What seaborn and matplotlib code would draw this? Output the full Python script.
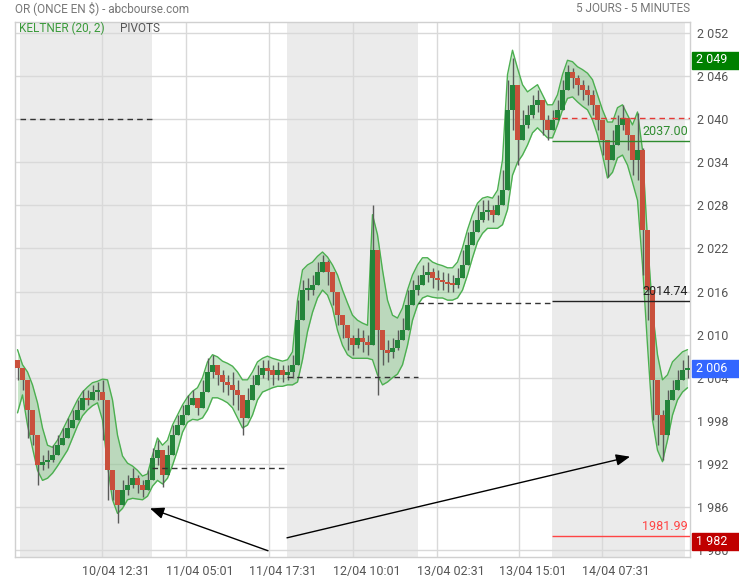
import numpy as np
import pandas as pd
import matplotlib
matplotlib.use("Agg")
import matplotlib.pyplot as plt
import seaborn as sns
from matplotlib import transforms
from matplotlib.patches import Rectangle

# ---------------- data ----------------
first_open = 2006.4
close = [2005.3, 2003.7, 1999.5, 1996.0, 1991.8, 1992.3, 1992.5, 1993.2, 1994.6, 1995.6,
         1997.0, 1998.1, 1999.5, 2001.2, 2000.9, 2002.0, 2002.0, 2000.9, 1991.1, 1988.4,
         1986.3, 1988.4, 1989.0, 1990.0, 1989.0, 1988.4, 1989.8, 1992.8, 1993.9, 1990.5,
         1993.2, 1996.0, 1997.4, 1998.8, 2000.2, 2001.2, 1999.8, 2002.0, 2004.8, 2005.8,
         2004.4, 2003.4, 2003.0, 2002.3, 2001.6, 1998.4, 2000.9, 2003.0, 2004.4, 2005.3,
         2005.1, 2004.4, 2005.1, 2004.4, 2004.8, 2005.8, 2012.0, 2016.2, 2016.2, 2016.9,
         2018.7, 2020.1, 2018.7, 2015.9, 2012.7, 2011.3, 2009.5, 2008.5, 2009.5, 2009.0,
         2008.5, 2021.8, 2010.6, 2007.8, 2007.6, 2008.1, 2009.2, 2010.6, 2014.1, 2016.2,
         2016.9, 2018.3, 2018.7, 2017.9, 2017.6, 2017.3, 2017.2, 2016.9, 2017.9, 2019.7,
         2022.5, 2024.3, 2026.0, 2027.1, 2027.4, 2026.7, 2028.0, 2030.1, 2041.3, 2044.8,
         2037.1, 2039.2, 2040.6, 2042.0, 2042.7, 2039.9, 2038.5, 2039.9, 2041.3, 2044.1,
         2046.6, 2045.7, 2044.8, 2044.1, 2043.4, 2042.0, 2039.9, 2037.1, 2034.3, 2036.4,
         2039.2, 2040.2, 2037.8, 2034.3, 2035.7, 2024.6, 2016.2, 2003.7, 1998.8, 1996.0,
         2000.9, 2002.3, 2003.7, 2005.1, 2005.3]
high = [2006.5, 2005.1, 2000.9, 1997.4, 1994.6, 1993.2, 1993.9, 1994.6, 1996.0, 1997.0,
        1998.4, 1999.5, 2000.9, 2002.3, 2002.3, 2003.0, 2003.4, 2003.7, 1996.7, 1990.5,
        1988.4, 1989.8, 1990.5, 1991.4, 1990.5, 1989.8, 1991.1, 1994.2, 1995.3, 1992.5,
        1994.6, 1997.4, 1998.8, 2000.2, 2001.6, 2002.3, 2001.2, 2003.7, 2006.7, 2007.2,
        2005.8, 2005.1, 2004.4, 2004.8, 2003.7, 2000.9, 2002.6, 2004.4, 2005.8, 2006.5,
        2006.5, 2005.8, 2006.2, 2005.8, 2005.8, 2007.2, 2014.8, 2017.6, 2017.9, 2018.3,
        2020.1, 2021.1, 2020.4, 2017.6, 2014.8, 2012.7, 2010.9, 2009.9, 2010.9, 2010.6,
        2009.9, 2028.0, 2021.8, 2009.2, 2009.2, 2009.5, 2010.6, 2012.3, 2016.2, 2017.6,
        2018.3, 2019.7, 2020.1, 2019.3, 2019.0, 2018.7, 2018.6, 2018.3, 2019.3, 2021.8,
        2024.3, 2026.0, 2028.0, 2028.7, 2028.7, 2028.0, 2029.4, 2032.9, 2045.5, 2048.5,
        2044.1, 2041.3, 2042.0, 2043.4, 2044.1, 2042.7, 2040.6, 2041.3, 2042.7, 2045.5,
        2047.5, 2047.1, 2046.2, 2045.5, 2044.8, 2044.1, 2042.0, 2039.9, 2037.1, 2038.5,
        2040.6, 2042.0, 2039.9, 2037.1, 2040.9, 2036.0, 2019.7, 2012.0, 2002.3, 1999.5,
        2002.3, 2003.7, 2005.1, 2006.5, 2007.2]
low = [2003.7, 2002.3, 1995.6, 1994.6, 1989.0, 1991.1, 1991.4, 1992.3, 1993.7, 1994.6,
       1996.0, 1997.0, 1998.4, 2000.2, 2000.2, 2000.9, 2000.9, 1995.3, 1987.0, 1987.0,
       1983.8, 1987.0, 1987.7, 1988.6, 1987.9, 1987.4, 1988.4, 1991.4, 1991.8, 1988.8,
       1991.4, 1994.6, 1996.4, 1997.8, 1998.8, 2000.2, 1998.8, 2000.6, 2003.4, 2004.0,
       2003.0, 2002.0, 2001.6, 2000.2, 1999.5, 1996.0, 1999.2, 2001.6, 2003.0, 2004.0,
       2003.7, 2003.0, 2003.7, 2003.4, 2003.7, 2004.0, 2006.5, 2014.1, 2014.8, 2015.5,
       2017.3, 2018.7, 2016.9, 2014.1, 2011.3, 2009.5, 2007.8, 2007.2, 2008.1, 2007.6,
       2007.2, 2008.5, 2001.6, 2005.8, 2006.2, 2006.7, 2007.8, 2009.2, 2012.0, 2014.8,
       2015.5, 2016.9, 2017.3, 2016.5, 2016.2, 2016.2, 2015.9, 2015.9, 2016.5, 2018.3,
       2020.7, 2022.9, 2024.6, 2025.7, 2026.0, 2025.7, 2026.7, 2028.7, 2030.1, 2038.5,
       2033.6, 2037.1, 2038.8, 2040.2, 2041.0, 2037.8, 2037.1, 2038.5, 2039.9, 2042.7,
       2045.2, 2044.3, 2043.4, 2042.7, 2042.0, 2040.6, 2038.5, 2035.0, 2031.9, 2034.3,
       2037.1, 2038.5, 2035.7, 2032.2, 2031.5, 2018.3, 2012.0, 1998.1, 1994.6, 1992.5,
       1998.1, 2000.9, 2002.3, 2003.7, 2004.0]
keltner_upper = [2007.9, 2005.8, 2004.8, 2003.0, 2000.5, 1997.0, 1994.6, 1994.3, 1995.3, 1996.7,
                 1998.1, 1999.5, 2000.9, 2002.0, 2002.7, 2003.3, 2003.5, 2003.8, 2003.7, 2000.9,
                 1996.0, 1993.1, 1992.1, 1991.7, 1991.1, 1990.3, 1990.6, 1993.2, 1995.6, 1994.6,
                 1995.3, 1997.4, 1998.8, 2000.2, 2001.3, 2002.1, 2002.6, 2004.0, 2006.2, 2007.2,
                 2006.9, 2006.3, 2006.0, 2005.6, 2004.8, 2003.7, 2003.7, 2004.8, 2006.2, 2006.7,
                 2007.0, 2006.7, 2006.5, 2006.3, 2006.5, 2007.6, 2014.8, 2019.0, 2019.7, 2020.1,
                 2020.9, 2021.5, 2020.8, 2019.7, 2018.3, 2016.2, 2014.4, 2012.7, 2012.0, 2011.6,
                 2011.3, 2026.7, 2023.9, 2019.0, 2014.8, 2012.7, 2012.3, 2013.7, 2016.2, 2018.3,
                 2019.7, 2020.7, 2020.7, 2020.1, 2019.8, 2019.6, 2019.3, 2019.3, 2020.1, 2022.1,
                 2024.6, 2026.7, 2028.3, 2029.0, 2029.2, 2029.0, 2030.1, 2034.3, 2046.2, 2049.6,
                 2047.1, 2044.8, 2043.8, 2044.3, 2044.8, 2043.4, 2042.0, 2042.0, 2043.4, 2046.2,
                 2048.2, 2048.0, 2047.3, 2046.9, 2046.4, 2045.5, 2043.4, 2041.3, 2039.6, 2039.6,
                 2041.6, 2042.0, 2040.6, 2039.2, 2041.0, 2035.7, 2023.2, 2013.4, 2007.2, 2003.7,
                 2004.4, 2006.2, 2006.9, 2007.6, 2007.9]
keltner_lower = [1999.1, 2001.6, 1997.4, 1994.2, 1991.1, 1989.7, 1990.0, 1990.7, 1991.7, 1992.8,
                 1993.9, 1995.6, 1997.3, 1998.7, 1999.5, 2000.1, 2000.5, 1998.1, 1991.8, 1987.0,
                 1985.1, 1985.8, 1987.0, 1987.2, 1987.1, 1987.0, 1987.5, 1988.9, 1989.7, 1989.2,
                 1990.0, 1991.8, 1993.9, 1996.4, 1997.8, 1998.2, 1998.1, 1998.4, 1999.5, 2001.2,
                 2001.2, 2000.9, 2000.5, 1999.8, 1998.4, 1997.0, 1997.4, 1998.8, 2000.9, 2002.0,
                 2002.3, 2002.6, 2002.8, 2002.8, 2003.0, 2003.0, 2003.4, 2006.5, 2010.4, 2013.1,
                 2015.1, 2016.2, 2015.5, 2013.7, 2010.6, 2008.5, 2007.2, 2006.7, 2006.7, 2006.7,
                 2006.7, 2006.5, 2004.4, 2003.0, 2003.4, 2004.0, 2004.5, 2005.8, 2008.5, 2012.0,
                 2014.1, 2015.1, 2015.4, 2015.2, 2015.1, 2015.1, 2014.8, 2014.8, 2015.1, 2016.2,
                 2018.3, 2020.7, 2022.9, 2024.1, 2024.8, 2024.8, 2024.8, 2025.3, 2027.4, 2032.2,
                 2034.0, 2035.0, 2036.4, 2038.1, 2038.8, 2038.1, 2037.4, 2037.4, 2039.2, 2041.3,
                 2042.9, 2043.1, 2042.4, 2041.8, 2041.3, 2039.9, 2037.8, 2035.0, 2031.8, 2032.6,
                 2034.6, 2035.0, 2033.6, 2031.2, 2028.7, 2019.7, 2008.5, 1998.1, 1993.9, 1992.3,
                 1995.3, 1998.8, 2000.9, 2002.0, 2002.6]

y_ticks = [1980, 1986, 1992, 1998, 2004, 2010, 2016, 2022, 2028, 2034, 2040, 2046, 2052]
x_grid = [16.9, 33.7, 50.3, 67.1, 83.9, 100.3, 116.9]
x_tick_pos = [19.7, 36.5, 53.1, 69.9, 86.7, 103.1, 119.7]
x_tick_labels = ["10/04 12:31", "11/04 05:01", "11/04 17:31", "12/04 10:01",
                 "13/04 02:31", "13/04 15:01", "14/04 07:31"]
day_bounds = [0.5, 26.9, 53.9, 80.1, 106.9, 134.5]
shaded_days = [(0.5, 26.9), (53.9, 80.1), (106.9, 133.5)]
prev_pivots = [2040.0, 1991.4, 2004.1, 2014.4]
last_pivots = [  # value, colour, style, label
    (2040.1, "#e53935", "--", None),
    (2037.00, "#2e8b2e", "-", "2037.00"),
    (2014.74, "#222222", "-", "2014.74"),
    (1981.99, "#ff4444", "-", "1981.99"),
]
price_boxes = [(2049, "#008000", "2 049"), (2006, "#3366ff", "2 006"), (1982, "#c00000", "1 982")]

# ---------------- figure ----------------
sns.set_theme(style="white")
plt.rcParams["font.family"] = ["Roboto", "DejaVu Sans"]

W, H = 739, 580
fig = plt.figure(figsize=(W / 100, H / 100), dpi=100)
ax = fig.add_axes([15 / W, (H - 557) / H, 675 / W, 535 / H])
ax.set_xlim(-0.5, 134.5)
ax.set_ylim(1979.03, 2053.53)

idx = np.arange(len(close))
opens = np.array([first_open] + close[:-1])
closes = np.array(close)
highs = np.maximum(np.array(high), np.maximum(opens, closes))
lows = np.minimum(np.array(low), np.minimum(opens, closes))

# background: shaded sessions and grid
for a, b in shaded_days:
    ax.axvspan(a, b, color="#ebebeb", lw=0, zorder=0)
for y in y_ticks:
    ax.axhline(y, color="#d9d9d9", lw=1, zorder=0.5)
for x in x_grid:
    ax.axvline(x, color="#d9d9d9", lw=1, zorder=0.5)

# Keltner channel
df = pd.DataFrame({"t": idx, "upper": keltner_upper, "lower": keltner_lower})
ax.fill_between(df["t"], df["lower"], df["upper"], color="#4caf50", alpha=0.3, lw=0, zorder=1)
sns.lineplot(data=df, x="t", y="upper", ax=ax, color="#4caf50", lw=1, zorder=2)
sns.lineplot(data=df, x="t", y="lower", ax=ax, color="#4caf50", lw=1, zorder=2)

# candlesticks
up = closes >= opens
ax.vlines(idx, lows, highs, color="#5a5a5a", lw=1.0, zorder=3)
body = closes - opens
body = np.where(np.abs(body) < 0.3, np.where(up, 0.3, -0.3), body)
ax.bar(idx, body, bottom=opens, width=0.85,
       color=np.where(up, "#23853a", "#c9503c"), lw=0, zorder=4)

# pivots of previous sessions (dashed)
for k, v in enumerate(prev_pivots):
    ax.hlines(v, day_bounds[k], day_bounds[k + 1], colors="#333333",
              linestyles=(0, (4, 3)), lw=1, zorder=5)
# pivots of the last session
for v, c, ls, lab in last_pivots:
    ax.hlines(v, day_bounds[4], day_bounds[5], colors=c,
              linestyles=(0, (4, 3)) if ls == "--" else "-", lw=1, zorder=5)
    if lab:
        ax.text(134.1, v + 0.35, lab, color=c, fontsize=9, ha="right", va="bottom", zorder=6)

# arrows
arrow = dict(arrowstyle="-|>,head_length=0.6,head_width=0.25", color="black",
             lw=1, mutation_scale=14, shrinkA=0, shrinkB=0)
ax.annotate("", xy=(26.5, 1985.8), xytext=(50.1, 1979.9), arrowprops=arrow, zorder=7)
ax.annotate("", xy=(122.5, 1993.0), xytext=(53.9, 1981.7), arrowprops=arrow, zorder=7)

# axes styling
ax.set_xlabel("")
ax.set_ylabel("")
ax.set_xticks(x_tick_pos)
ax.set_xticklabels(x_tick_labels)
ax.set_yticks(y_ticks)
ax.set_yticklabels([f"{v:,}".replace(",", " ") for v in y_ticks])
ax.yaxis.tick_right()
ax.tick_params(axis="both", length=0, labelsize=9, colors="#555555")
ax.tick_params(axis="x", pad=6)
ax.tick_params(axis="y", pad=5)
for s in ax.spines.values():
    s.set_color("#d0d0d0")
    s.set_linewidth(1)
ax.grid(False)

# price boxes on the right
blend = transforms.blended_transform_factory(fig.transFigure, ax.transData)
for v, c, lab in price_boxes:
    ax.add_patch(Rectangle((692 / W, v - 1.95), 47 / W, 2.37, transform=blend,
                           color=c, clip_on=False, zorder=20))
    ax.text(696 / W, v - 0.76, lab, transform=blend, color="white", fontsize=9,
            va="center", ha="left", clip_on=False, zorder=21)

# header and legend
fig.text(15 / W, 1 - 8 / H, "OR (ONCE EN \\$) - abcbourse.com", color="#777777",
         fontsize=8.5, va="center", ha="left")
fig.text(690 / W, 1 - 8 / H, "5 JOURS - 5 MINUTES", color="#777777",
         fontsize=8.5, va="center", ha="right")
fig.text(19 / W, 1 - 28 / H, "KELTNER (20, 2)", color="#3a9a3a", fontsize=8.5,
         va="center", ha="left")
fig.text(120 / W, 1 - 28 / H, "PIVOTS", color="#555555", fontsize=8.5,
         va="center", ha="left")

fig.savefig("out.png", dpi=100, facecolor="white")
